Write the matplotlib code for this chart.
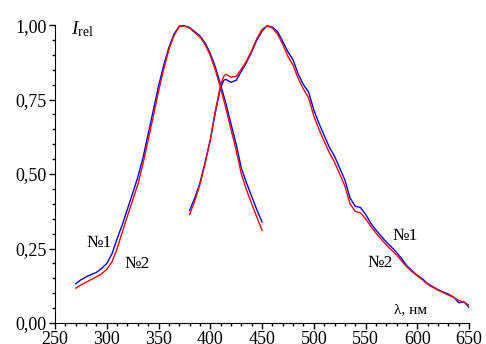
import matplotlib
matplotlib.use('Agg')
import matplotlib.pyplot as plt
from matplotlib.ticker import MultipleLocator, FuncFormatter

plt.rcParams['font.family'] = ['Liberation Serif', 'DejaVu Serif']
plt.rcParams['mathtext.fontset'] = 'custom'
plt.rcParams['mathtext.rm'] = 'Liberation Serif'
plt.rcParams['mathtext.it'] = 'Liberation Serif:italic'

# спектры возбуждения (левый пик)
ex_wl = [270, 275, 280, 285, 290, 295, 300, 305, 310, 315, 320, 325, 330, 335, 340,
         345, 350, 355, 360, 365, 370, 375, 380, 385, 390, 395, 400, 405, 410, 415,
         420, 425, 430, 435, 440, 445, 450]
ex_1 = [0.132, 0.145, 0.155, 0.163, 0.170, 0.183, 0.200, 0.232, 0.283, 0.330, 0.383,
        0.435, 0.490, 0.555, 0.635, 0.715, 0.795, 0.865, 0.925, 0.970, 0.997, 0.998,
        0.992, 0.978, 0.964, 0.940, 0.905, 0.858, 0.800, 0.738, 0.668, 0.600, 0.520,
        0.470, 0.425, 0.380, 0.339]
ex_2 = [0.117, 0.128, 0.137, 0.146, 0.155, 0.165, 0.180, 0.205, 0.250, 0.305, 0.360,
        0.412, 0.465, 0.535, 0.615, 0.695, 0.778, 0.852, 0.918, 0.965, 0.995, 0.997,
        0.990, 0.975, 0.960, 0.935, 0.898, 0.848, 0.788, 0.722, 0.650, 0.580, 0.500,
        0.447, 0.400, 0.355, 0.311]

# спектры люминесценции (правый пик)
em_wl = [380, 385, 390, 395, 400, 405, 410, 413, 415, 420, 425, 430, 435, 440, 445,
         450, 455, 460, 465, 470, 475, 480, 485, 490, 495, 500, 505, 510, 515, 520,
         525, 530, 535, 540, 545, 550, 555, 560, 565, 570, 575, 580, 585, 590, 595,
         600, 605, 610, 615, 620, 625, 630, 635, 640, 645, 650]
em_1 = [0.378, 0.420, 0.470, 0.540, 0.615, 0.710, 0.790, 0.815, 0.818, 0.808, 0.815,
        0.845, 0.875, 0.910, 0.950, 0.980, 0.998, 0.993, 0.978, 0.945, 0.910, 0.883,
        0.835, 0.800, 0.775, 0.715, 0.670, 0.630, 0.590, 0.560, 0.520, 0.480, 0.420,
        0.392, 0.388, 0.365, 0.335, 0.312, 0.292, 0.272, 0.255, 0.237, 0.215, 0.192,
        0.175, 0.160, 0.148, 0.132, 0.122, 0.112, 0.104, 0.097, 0.087, 0.068, 0.072,
        0.052]
em_2 = [0.364, 0.410, 0.465, 0.535, 0.615, 0.715, 0.800, 0.828, 0.835, 0.825, 0.828,
        0.852, 0.880, 0.915, 0.955, 0.985, 0.998, 0.990, 0.970, 0.935, 0.895, 0.865,
        0.820, 0.785, 0.755, 0.695, 0.650, 0.610, 0.572, 0.540, 0.500, 0.460, 0.400,
        0.375, 0.370, 0.350, 0.325, 0.302, 0.282, 0.262, 0.245, 0.228, 0.208, 0.188,
        0.172, 0.158, 0.145, 0.130, 0.120, 0.110, 0.102, 0.094, 0.086, 0.076, 0.070,
        0.060]

fig = plt.figure(figsize=(4.86, 3.44), dpi=100)
ax = fig.add_axes([0.1132, 0.061, 0.852, 0.866])

ax.plot(ex_wl, ex_1, color='blue', lw=1.0)
ax.plot(em_wl, em_1, color='blue', lw=1.0)
ax.plot(ex_wl, ex_2, color='red', lw=1.0)
ax.plot(em_wl, em_2, color='red', lw=1.0)

ax.set_xlim(250, 650)
ax.set_ylim(0, 1.0)
ax.spines['top'].set_visible(False)
ax.spines['right'].set_visible(False)
ax.xaxis.set_major_locator(MultipleLocator(50))
ax.xaxis.set_minor_locator(MultipleLocator(10))
ax.yaxis.set_major_locator(MultipleLocator(0.25))
ax.yaxis.set_minor_locator(MultipleLocator(0.05))
ax.yaxis.set_major_formatter(FuncFormatter(lambda v, p: f"{v:.2f}".replace('.', ',')))
ax.tick_params(which='major', direction='out', length=4, width=1, labelsize=13, pad=2)
ax.tick_params(which='minor', direction='out', length=2.5, width=1)

ax.text(265, 0.985, r'$I_{\rm rel}$', fontsize=14, ha='left', va='center')
ax.text(293, 0.268, '№1', fontsize=12.5, ha='center', va='center')
ax.text(329, 0.198, '№2', fontsize=12.5, ha='center', va='center')
ax.text(588, 0.292, '№1', fontsize=12.5, ha='center', va='center')
ax.text(564, 0.200, '№2', fontsize=12.5, ha='center', va='center')
ax.text(593, 0.044, 'λ, нм', fontsize=11, ha='center', va='center')

fig.savefig('out.png', dpi=100)
